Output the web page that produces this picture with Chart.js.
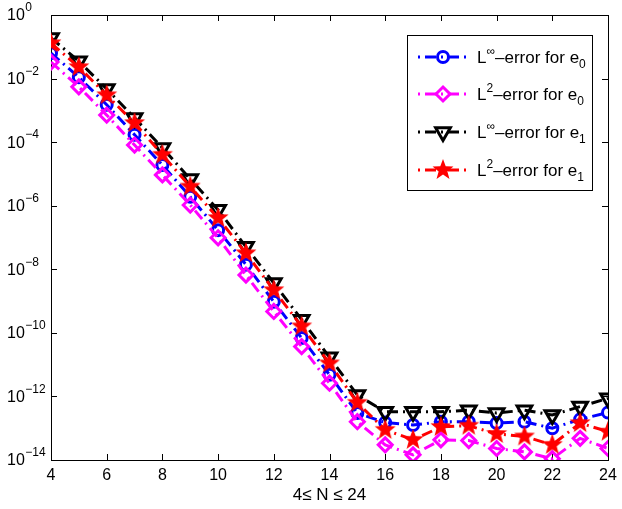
<!DOCTYPE html>
<html>
<head>
<meta charset="utf-8">
<script src="https://cdn.jsdelivr.net/npm/chart.js@4/dist/chart.umd.min.js"></script>
<style>
    html, body { margin: 0; padding: 0; background: #fff; }
    #chart { display: block; }
</style>
</head>
<body>
<canvas id="chart" width="622" height="509"></canvas>
<script>
(function () {
    'use strict';

    // ---- data ----
    const nValues = [4, 5, 6, 7, 8, 9, 10, 11, 12, 13, 14, 15, 16, 17, 18, 19, 20, 21, 22, 23, 24];
    const linfE0 = [6.3e-2, 1.1e-2, 1.5e-3, 1.7e-4, 1.9e-5, 1.9e-6, 1.7e-7, 1.4e-8, 9.5e-10, 6.9e-11, 4.8e-12,
        3.0e-13, 1.5e-13, 1.26e-13, 1.6e-13, 1.6e-13, 1.45e-13, 1.6e-13, 1.0e-13, 1.9e-13, 3.1e-13];
    const l2E0 = [3.3e-2, 5.5e-3, 7.1e-4, 8.1e-5, 9.3e-6, 1.05e-6, 9.8e-8, 6.6e-9, 4.7e-10, 3.7e-11, 2.6e-12,
        1.6e-13, 3.0e-14, 1.45e-14, 4.3e-14, 4.1e-14, 2.3e-14, 1.8e-14, 1.1e-14, 4.8e-14, 2.3e-14];
    const linfE1 = [1.9e-1, 3.5e-2, 4.7e-3, 5.8e-4, 6.6e-5, 6.9e-6, 7.4e-7, 5.1e-8, 3.7e-9, 2.6e-10, 1.7e-11,
        1.1e-12, 3.3e-13, 3.3e-13, 3.3e-13, 3.7e-13, 3.0e-13, 3.7e-13, 2.6e-13, 4.8e-13, 8.7e-13];
    const l2E1 = [1.3e-1, 2.3e-2, 3.0e-3, 4.0e-4, 4.0e-5, 4.0e-6, 4.1e-7, 3.2e-8, 2.2e-9, 1.6e-10, 1.1e-11,
        6.3e-13, 8.9e-14, 4.3e-14, 1.1e-13, 1.2e-13, 6.6e-14, 5.5e-14, 3.0e-14, 1.45e-13, 7.8e-14];

    const xTicks = [4, 6, 8, 10, 12, 14, 16, 18, 20, 22, 24];
    const yExponents = [0, -2, -4, -6, -8, -10, -12, -14];
    const xTitle = '4\u2264 N \u2264 24';
    const legendLabels = [
        { base: 'L', sup: '\u221E', rest: '\u2013error for e', sub: '0' },
        { base: 'L', sup: '2', rest: '\u2013error for e', sub: '0' },
        { base: 'L', sup: '\u221E', rest: '\u2013error for e', sub: '1' },
        { base: 'L', sup: '2', rest: '\u2013error for e', sub: '1' }
    ];

    const FONT = "'Liberation Sans', Arial, sans-serif";
    const DASH = [11, 5, 2, 5];

    // filled five-point star used as point style
    function makeStar(color, outer, inner) {
        const c = document.createElement('canvas');
        const s = Math.ceil(outer * 2 + 2);
        c.width = s; c.height = s;
        const g = c.getContext('2d');
        g.fillStyle = color;
        g.beginPath();
        for (let i = 0; i < 10; i++) {
            const r = i % 2 === 0 ? outer : inner;
            const a = -Math.PI / 2 + i * Math.PI / 5;
            const px = s / 2 + r * Math.cos(a);
            const py = s / 2 + r * Math.sin(a);
            if (i === 0) g.moveTo(px, py); else g.lineTo(px, py);
        }
        g.closePath();
        g.fill();
        return c;
    }
    const starImg = makeStar('#ff0000', 11, 4.6);

    function pts(arr) {
        return nValues.map((n, i) => ({ x: n, y: arr[i] }));
    }

    const series = [
        { data: linfE0, color: '#0000ff', style: 'circle', radius: 5.5, rotation: 0, order: 4 },
        { data: l2E0, color: '#ff00ff', style: 'rectRot', radius: 7, rotation: 0, order: 3 },
        { data: linfE1, color: '#000000', style: 'triangle', radius: 8.5, rotation: 180, order: 2 },
        { data: l2E1, color: '#ff0000', style: starImg, radius: 11, rotation: 0, order: 1 }
    ];

    // custom marker drawing for the legend box
    function drawMarker(ctx, s, x, y) {
        ctx.save();
        ctx.strokeStyle = s.color;
        ctx.lineWidth = 3;
        ctx.setLineDash([]);
        ctx.beginPath();
        if (s.style === 'circle') {
            ctx.arc(x, y, s.radius, 0, Math.PI * 2);
            ctx.stroke();
        } else if (s.style === 'rectRot') {
            ctx.moveTo(x, y - s.radius); ctx.lineTo(x + s.radius, y);
            ctx.lineTo(x, y + s.radius); ctx.lineTo(x - s.radius, y);
            ctx.closePath(); ctx.stroke();
        } else if (s.style === 'triangle') {
            const r = s.radius;
            ctx.moveTo(x - r * 0.866, y - r * 0.5); ctx.lineTo(x + r * 0.866, y - r * 0.5);
            ctx.lineTo(x, y + r); ctx.closePath(); ctx.stroke();
        } else {
            ctx.drawImage(s.style, x - s.style.width / 2, y - s.style.height / 2);
        }
        ctx.restore();
    }

    const matlabAxes = {
        id: 'matlabAxes',
        beforeDatasetsDraw(chart) {
            const { ctx, chartArea: a, scales } = chart;
            ctx.save();
            ctx.strokeStyle = '#000';
            ctx.lineWidth = 1;
            ctx.setLineDash([]);
            ctx.strokeRect(a.left + 0.5, a.top + 0.5, a.right - a.left, a.bottom - a.top);
            ctx.beginPath();
            xTicks.forEach(v => {
                const px = Math.round(scales.x.getPixelForValue(v)) + 0.5;
                ctx.moveTo(px, a.bottom); ctx.lineTo(px, a.bottom - 6);
                ctx.moveTo(px, a.top); ctx.lineTo(px, a.top + 6);
            });
            yExponents.forEach(e => {
                const py = Math.round(scales.y.getPixelForValue(Math.pow(10, e))) + 0.5;
                ctx.moveTo(a.left, py); ctx.lineTo(a.left + 6, py);
                ctx.moveTo(a.right, py); ctx.lineTo(a.right - 6, py);
            });
            ctx.stroke();

            // tick labels
            ctx.fillStyle = '#000';
            ctx.font = '16px ' + FONT;
            ctx.textAlign = 'center';
            ctx.textBaseline = 'middle';
            xTicks.forEach(v => {
                ctx.fillText(String(v), scales.x.getPixelForValue(v), a.bottom + 16);
            });
            yExponents.forEach(e => {
                const py = scales.y.getPixelForValue(Math.pow(10, e));
                ctx.textAlign = 'left';
                ctx.font = '16px ' + FONT;
                ctx.fillText('10', 7, py + 1);
                const w = ctx.measureText('10').width;
                ctx.font = '12px ' + FONT;
                ctx.fillText(e === 0 ? '0' : '\u2212' + Math.abs(e), 7 + w + 0.5, py - 7);
            });
            ctx.textAlign = 'center';
            ctx.font = '17px ' + FONT;
            ctx.fillText(xTitle, (a.left + a.right) / 2, a.bottom + 35);
            ctx.restore();
        },
        afterDraw(chart) {
            const { ctx } = chart;
            const box = { x: 407, y: 35, w: 185, h: 155 };
            ctx.save();
            ctx.fillStyle = '#fff';
            ctx.fillRect(box.x, box.y, box.w, box.h);
            ctx.strokeStyle = '#000';
            ctx.lineWidth = 1;
            ctx.strokeRect(box.x + 0.5, box.y + 0.5, box.w, box.h);

            const rowsY = [57, 94, 132, 170];
            series.forEach((s, i) => {
                const y = rowsY[i];
                ctx.strokeStyle = s.color;
                ctx.lineWidth = 3;
                ctx.setLineDash([2, 5, 11, 5]);
                ctx.beginPath();
                ctx.moveTo(418, y); ctx.lineTo(468, y);
                ctx.stroke();
                drawMarker(ctx, s, 443, y);

                const lab = legendLabels[i];
                ctx.fillStyle = '#000';
                ctx.textBaseline = 'alphabetic';
                ctx.textAlign = 'left';
                let tx = 477;
                const base = y + 6;
                ctx.font = '17px ' + FONT;
                ctx.fillText(lab.base, tx, base);
                tx += ctx.measureText(lab.base).width;
                ctx.font = '12px ' + FONT;
                ctx.fillText(lab.sup, tx, base - 8);
                tx += ctx.measureText(lab.sup).width;
                ctx.font = '17px ' + FONT;
                ctx.fillText(lab.rest, tx, base);
                tx += ctx.measureText(lab.rest).width;
                ctx.font = '12px ' + FONT;
                ctx.fillText(lab.sub, tx, base + 5);
            });
            ctx.restore();
        }
    };

    new Chart(document.getElementById('chart'), {
        type: 'line',
        data: {
            datasets: series.map(s => ({
                data: pts(s.data),
                borderColor: s.color,
                backgroundColor: 'rgba(0,0,0,0)',
                borderWidth: 3,
                borderDash: DASH,
                pointStyle: s.style,
                pointRadius: s.radius,
                pointRotation: s.rotation,
                pointBorderWidth: 3,
                pointBorderColor: s.color,
                pointBackgroundColor: 'rgba(0,0,0,0)',
                tension: 0,
                fill: false,
                order: s.order
            }))
        },
        options: {
            responsive: false,
            animation: false,
            events: [],
            layout: { padding: { left: 51, top: 15, right: 9, bottom: 49 } },
            plugins: { legend: { display: false }, tooltip: { enabled: false } },
            scales: {
                x: { type: 'linear', min: 4, max: 24, display: false },
                y: { type: 'logarithmic', min: 1e-14, max: 1, display: false }
            }
        },
        plugins: [matlabAxes]
    });
})();
</script>
</body>
</html>
